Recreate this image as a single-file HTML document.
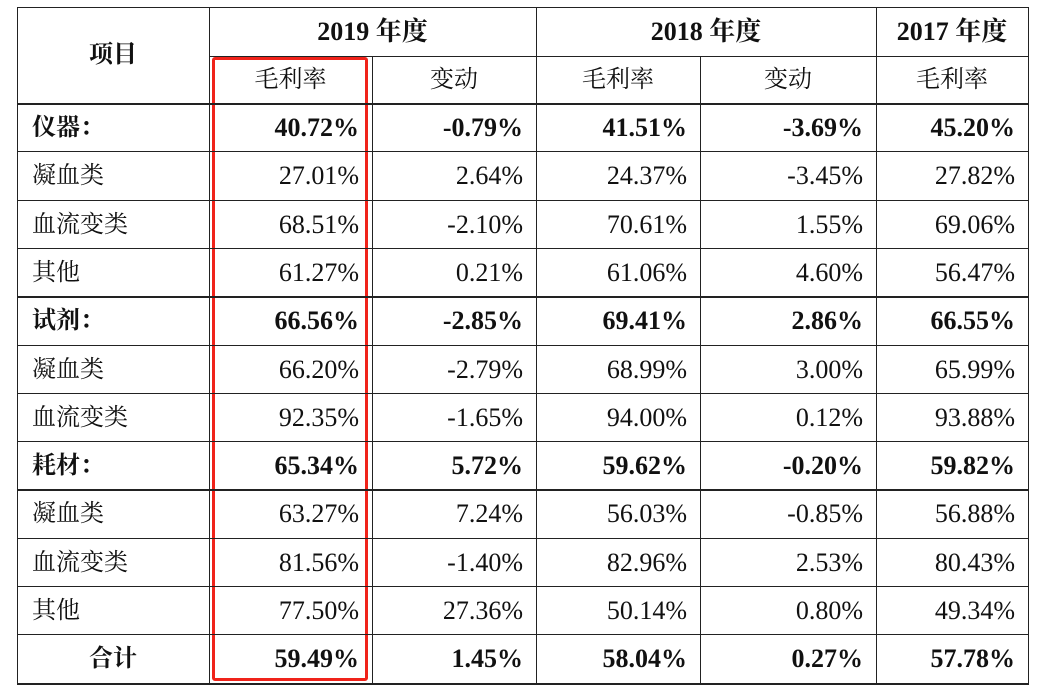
<!DOCTYPE html>
<html><head><meta charset="utf-8"><style>
body{margin:0;background:#fff;width:1049px;height:696px;overflow:hidden;position:relative;font-family:"Liberation Serif","Noto Serif CJK SC",serif;color:#111}
.h,.v{position:absolute;background:#222}
.h{height:1px}.v{width:1px}
.t{position:absolute;font-size:26px;line-height:48px;white-space:nowrap}
.r{text-align:right}
.c{text-align:center}
.b{font-weight:bold}
.cn{font-family:"Liberation Serif","Noto Serif CJK SC",serif;font-size:24px}
.red{position:absolute;left:212px;top:57px;width:150px;height:618px;border:3.5px solid #f0231a;border-radius:3px}
</style></head><body>
<div class="red"></div>
<script>
var g=document.body;
function add(cls,st,txt){var d=document.createElement('div');d.className=cls;d.setAttribute('style',st);if(txt!=null)d.textContent=txt;g.appendChild(d);}
var X=[17,209,372,536,700,876,1028];
var hb=103,rh=48.3;
add('h','left:17px;top:7px;width:1012px');
add('h','left:209px;top:56px;width:820px');
for(var i=0;i<=12;i++){var y=Math.round(hb+i*rh);add('h','left:17px;top:'+y+'px;width:1012px;'+((i==0||i==4||i==8||i==12)?'height:2px;':''));}
[17,209,536,876,1028].forEach(function(x){add('v','left:'+x+'px;top:7px;height:677px');});
[372,700].forEach(function(x){add('v','left:'+x+'px;top:56px;height:628px');});
add('t c cn','left:17px;top:31px;width:192px;line-height:48px;font-weight:bold','项目');
add('t c b','left:209px;top:8px;width:327px','2019 年度');
add('t c b','left:536px;top:8px;width:340px','2018 年度');
add('t c b','left:876px;top:8px;width:152px','2017 年度');
var sub=['毛利率','变动','毛利率','变动','毛利率'];
for(var k=0;k<5;k++)add('t c cn','left:'+X[k+1]+'px;top:56px;width:'+(X[k+2]-X[k+1])+'px',sub[k]);
var rows=[
['仪器：','40.72%','-0.79%','41.51%','-3.69%','45.20%',1],
['凝血类','27.01%','2.64%','24.37%','-3.45%','27.82%',0],
['血流变类','68.51%','-2.10%','70.61%','1.55%','69.06%',0],
['其他','61.27%','0.21%','61.06%','4.60%','56.47%',0],
['试剂：','66.56%','-2.85%','69.41%','2.86%','66.55%',1],
['凝血类','66.20%','-2.79%','68.99%','3.00%','65.99%',0],
['血流变类','92.35%','-1.65%','94.00%','0.12%','93.88%',0],
['耗材：','65.34%','5.72%','59.62%','-0.20%','59.82%',1],
['凝血类','63.27%','7.24%','56.03%','-0.85%','56.88%',0],
['血流变类','81.56%','-1.40%','82.96%','2.53%','80.43%',0],
['其他','77.50%','27.36%','50.14%','0.80%','49.34%',0],
['合计','59.49%','1.45%','58.04%','0.27%','57.78%',2]];
rows.forEach(function(r,i){
 var y=Math.round(hb+i*rh)+1;
 var b=r[6]?' b':'';
 if(r[6]==2)add('t c cn b','left:17px;top:'+y+'px;width:192px',r[0]);
 else add('t cn'+b,'left:32px;top:'+y+'px',r[0]);
 for(var k=1;k<=5;k++)add('t r'+b,'left:'+X[k]+'px;top:'+y+'px;width:'+(X[k+1]-X[k]-13)+'px',r[k]);
});
</script>
</body></html>
